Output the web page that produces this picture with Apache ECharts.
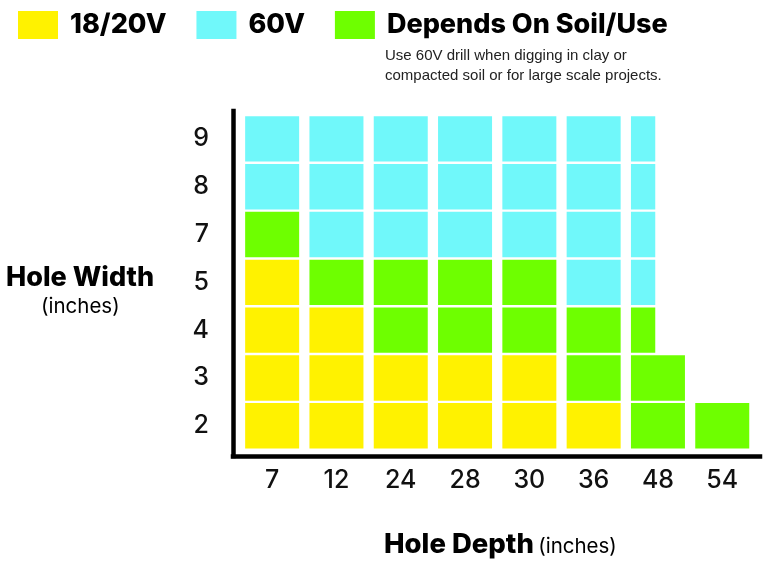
<!DOCTYPE html>
<html>
<head>
<meta charset="utf-8">
<script src="https://cdn.jsdelivr.net/npm/echarts@6/dist/echarts.min.js"></script>
<style>
  html, body { margin: 0; padding: 0; background: #fff; }
  #chart { width: 768px; height: 561px; }
</style>
</head>
<body>
<div id="chart"></div>
<script>
// hole depth (inches) along x, hole width (inches) along y
const depths = ['7', '12', '24', '28', '30', '36', '48', '54'];
const holeWidths = ['2', '3', '4', '5', '7', '8', '9'];

// one column per depth, widths listed from 2 up to 9
// Y = 18/20V, C = 60V, G = depends on soil/use, lower case = partly, '-' = none
const col7  = ['Y', 'Y', 'Y', 'Y', 'G', 'C', 'C'];
const col12 = ['Y', 'Y', 'Y', 'G', 'C', 'C', 'C'];
const col24 = ['Y', 'Y', 'G', 'G', 'C', 'C', 'C'];
const col28 = ['Y', 'Y', 'G', 'G', 'C', 'C', 'C'];
const col30 = ['Y', 'Y', 'G', 'G', 'C', 'C', 'C'];
const col36 = ['Y', 'G', 'G', 'C', 'C', 'C', 'C'];
const col48 = ['G', 'G', 'g', 'c', 'c', 'c', 'c'];
const col54 = ['G', '-', '-', '-', '-', '-', '-'];
const ratings = [col7, col12, col24, col28, col30, col36, col48, col54];

const legendNames = ['18/20V', '60V', 'Depends On Soil/Use'];
const legendCodes = ['Y', 'C', 'G'];
const legendColors = ['#fff200', '#70f8fa', '#6eff00'];

const note = 'Use 60V drill when digging in clay or\ncompacted soil or for large scale projects.';

const chart = echarts.init(document.getElementById('chart'));

// collect the cells of one rating: [depth index, width index, full(1)/part(0)]
function cellsFor(code) {
  let out = [];
  ratings.forEach((col, i) => {
    col.forEach((r, j) => {
      if (r.toUpperCase() === code) out.push([i, j, r === code ? 1 : 0]);
    });
  });
  return out;
}

function renderCell(params, api) {
  let c = api.coord([api.value(0), api.value(1)]);
  let band = api.size([1, 1]);
  let w = band[0] - 10.3;
  let h = band[1] - 2.4;
  let share = api.value(2) ? 1 : 0.45;
  return {
    type: 'rect',
    shape: { x: c[0] - w / 2, y: c[1] - h / 2, width: w * share, height: h },
    style: api.style({ stroke: null })
  };
}

let seriesData = legendCodes.map((code, k) => ({
  name: legendNames[k],
  type: 'custom',
  xAxisIndex: 0,
  yAxisIndex: 0,
  color: legendColors[k],
  itemStyle: { color: legendColors[k] },
  renderItem: renderCell,
  encode: { x: 0, y: 1 },
  data: cellsFor(code)
}));

let option = {
  animation: false,
  backgroundColor: '#fff',
  textStyle: { fontFamily: 'Inter' },
  title: [
    {
      text: note,
      left: 385,
      top: 46,
      padding: 0,
      textStyle: { fontFamily: 'Liberation Sans', fontSize: 15, lineHeight: 20, fontWeight: 'normal', color: '#222' }
    },
    {
      text: 'Hole Width',
      left: 6,
      top: 264,
      padding: 0,
      textStyle: { fontFamily: 'Inter', fontSize: 27, fontWeight: 800, color: '#000' }
    },
    {
      text: '(inches)',
      left: 41,
      top: 296,
      padding: 0,
      textStyle: { fontFamily: 'Inter', fontSize: 20.5, fontWeight: 'normal', color: '#000' }
    },
    {
      text: '{b|Hole Depth} {n|(inches)}',
      left: 384,
      top: 531,
      padding: 0,
      textStyle: {
        rich: {
          b: { fontFamily: 'Inter', fontSize: 27.5, fontWeight: 800, color: '#000' },
          n: { fontFamily: 'Inter', fontSize: 20.5, fontWeight: 'normal', color: '#000', padding: [4, 0, 0, 0] }
        }
      }
    }
  ],
  legend: {
    left: 18,
    top: 11,
    padding: 0,
    itemWidth: 40,
    itemHeight: 28,
    itemGap: 30,
    icon: 'rect',
    selectedMode: false,
    data: legendNames,
    textStyle: { fontFamily: 'Inter', fontSize: 27, fontWeight: 800, color: '#000', padding: [0, 0, 0, 7] }
  },
  grid: [
    { left: 240, right: 13.6, top: 115, bottom: 111.3 },
    // frame that only draws the two thick axis lines
    { left: 233, right: 8, top: 111, bottom: 105 }
  ],
  xAxis: [
    {
      gridIndex: 0,
      type: 'category',
      data: depths,
      boundaryGap: true,
      axisLine: { show: false },
      axisTick: { show: false },
      splitLine: { show: false },
      axisLabel: { margin: 18, fontFamily: 'Inter', fontSize: 25, fontWeight: 500, color: '#111' }
    },
    {
      gridIndex: 1,
      type: 'value',
      min: 0,
      max: 1,
      axisLine: { show: true, lineStyle: { color: '#000', width: 4.5, cap: 'square' } },
      axisTick: { show: false },
      axisLabel: { show: false },
      splitLine: { show: false }
    }
  ],
  yAxis: [
    {
      gridIndex: 0,
      type: 'category',
      data: holeWidths,
      boundaryGap: true,
      axisLine: { show: false },
      axisTick: { show: false },
      splitLine: { show: false },
      axisLabel: { margin: 31, fontFamily: 'Inter', fontSize: 25, fontWeight: 500, color: '#111', padding: [3, 0, 0, 0] }
    },
    {
      gridIndex: 1,
      type: 'value',
      min: 0,
      max: 1,
      axisLine: { show: true, lineStyle: { color: '#000', width: 4.5, cap: 'square' } },
      axisTick: { show: false },
      axisLabel: { show: false },
      splitLine: { show: false }
    }
  ],
  series: seriesData
};

chart.setOption(option);
window.onresize = () => {
  chart.resize();
};
</script>
</body>
</html>
